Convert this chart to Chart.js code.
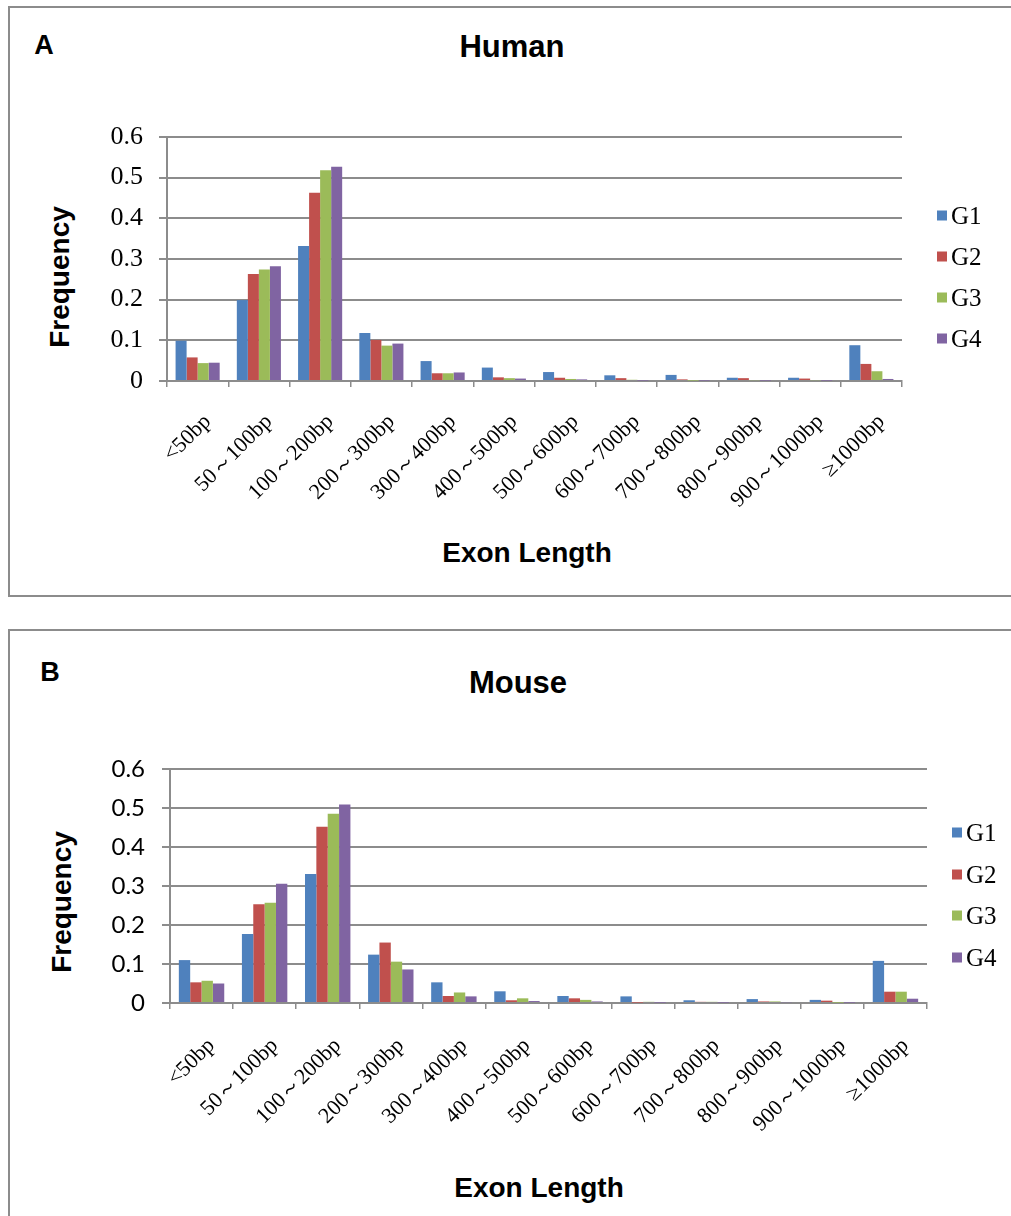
<!DOCTYPE html>
<html>
<head>
<meta charset="utf-8">
<script src="https://cdn.jsdelivr.net/npm/chart.js@4.4.1/dist/chart.umd.min.js"></script>
<style>
  html, body { margin: 0; padding: 0; background: #fff; }
  body { position: relative; width: 1011px; height: 1216px; overflow: hidden; }
  .panel { position: absolute; border: 2px solid #8c8c8c; box-sizing: border-box; }
  canvas { position: absolute; }
  .txt { position: absolute; font-family: "Liberation Sans", Arial, sans-serif; font-weight: bold; color: #000; white-space: nowrap; transform: translate(-50%, -50%); }
  .legend-item { position: absolute; font-family: "Liberation Serif", "Times New Roman", serif; font-size: 25px; color: #000; white-space: nowrap; line-height: 1; transform: translateY(-50%); }
  .legend-item span { display: inline-block; width: 10px; height: 10px; margin-right: 4px; vertical-align: 3px; }
</style>
</head>
<body>
<div class="panel" style="left:8px; top:6px; width:1100px; height:591px;"></div>
<div class="panel" style="left:8px; top:629px; width:1100px; height:700px;"></div>

<div class="txt" style="left:44px; top:45px; font-size:27px;">A</div>
<div class="txt" style="left:512px; top:47px; font-size:31px;">Human</div>
<div class="txt" style="left:60px; top:277px; font-size:28px; transform: translate(-50%, -50%) rotate(-90deg);">Frequency</div>
<div class="txt" style="left:527px; top:553px; font-size:28px;">Exon Length</div>

<div class="txt" style="left:50px; top:672px; font-size:27px;">B</div>
<div class="txt" style="left:518px; top:683px; font-size:31px;">Mouse</div>
<div class="txt" style="left:62px; top:902px; font-size:28px; transform: translate(-50%, -50%) rotate(-90deg);">Frequency</div>
<div class="txt" style="left:539px; top:1188px; font-size:28px;">Exon Length</div>

<canvas id="human" width="1000" height="586" style="left:10px; top:8px;"></canvas>
<canvas id="mouse" width="1000" height="585" style="left:10px; top:631px;"></canvas>

<script>
// exon length bins
const categories = ['<50bp', '50～100bp', '100～200bp', '200～300bp', '300～400bp', '400～500bp',
  '500～600bp', '600～700bp', '700～800bp', '800～900bp', '900～1000bp', '≥1000bp'];
const groupNames = ['G1', 'G2', 'G3', 'G4'];
const groupColors = ['#4F81BD', '#C0504D', '#9BBB59', '#8064A2'];
const yTicks = [0, 0.1, 0.2, 0.3, 0.4, 0.5, 0.6];

// Human frequencies
const humanG1 = [0.099, 0.199, 0.332, 0.118, 0.049, 0.033, 0.022, 0.014, 0.015, 0.008, 0.008, 0.088];
const humanG2 = [0.058, 0.263, 0.463, 0.101, 0.019, 0.009, 0.008, 0.007, 0.004, 0.007, 0.006, 0.042];
const humanG3 = [0.044, 0.274, 0.518, 0.087, 0.019, 0.007, 0.005, 0.003, 0.001, 0.002, 0.002, 0.024];
const humanG4 = [0.045, 0.282, 0.527, 0.092, 0.021, 0.006, 0.004, 0.001, 0.001, 0.001, 0.001, 0.005];

// Mouse frequencies
const mouseG1 = [0.110, 0.177, 0.331, 0.124, 0.053, 0.030, 0.018, 0.017, 0.007, 0.010, 0.008, 0.108];
const mouseG2 = [0.053, 0.253, 0.452, 0.155, 0.018, 0.007, 0.012, 0.001, 0.003, 0.004, 0.006, 0.029];
const mouseG3 = [0.057, 0.257, 0.485, 0.106, 0.027, 0.012, 0.008, 0.003, 0.003, 0.004, 0.001, 0.029];
const mouseG4 = [0.050, 0.306, 0.509, 0.086, 0.017, 0.005, 0.004, 0.001, 0.001, 0.002, 0.001, 0.011];

const gridGray = '#8c8c8c';
const serif = '"Liberation Serif", "Times New Roman", serif';

function makeDatasets(series) {
  return series.map((values, i) => ({
    label: groupNames[i],
    data: values,
    backgroundColor: groupColors[i],
    borderWidth: 0,
    categoryPercentage: 0.72,
    barPercentage: 1.0
  }));
}

function makeChart(id, series, cfg) {
  const ctx = document.getElementById(id).getContext('2d');
  return new Chart(ctx, {
    type: 'bar',
    data: { labels: categories, datasets: makeDatasets(series) },
    options: {
      responsive: false,
      animation: false,
      layout: { padding: { left: 0, top: cfg.top, right: cfg.right, bottom: 0 } },
      plugins: { legend: { display: false }, title: { display: false }, tooltip: { enabled: false } },
      scales: {
        x: {
          grid: { drawOnChartArea: false, color: gridGray, lineWidth: 1.5, tickLength: 6, offset: true },
          border: { color: gridGray, width: 2 },
          ticks: {
            autoSkip: false, minRotation: 45, maxRotation: 45,
            padding: cfg.xPad, labelOffset: cfg.xShift, color: '#000',
            font: { family: serif, size: 22 }
          },
          afterFit: (s) => { s.height = cfg.xHeight; }
        },
        y: {
          min: 0, max: 0.6,
          afterBuildTicks: (s) => { s.ticks = yTicks.map(v => ({ value: v })); },
          ticks: { padding: cfg.yPad, color: '#000', font: cfg.yFont },
          grid: { color: gridGray, lineWidth: 2, tickLength: 8 },
          border: { color: gridGray, width: 2 },
          afterFit: (s) => { s.width = cfg.yWidth; }
        }
      }
    }
  });
}

// html legend built from the chart's datasets
function addLegend(chart, left, top, step) {
  chart.data.datasets.forEach((ds, i) => {
    const div = document.createElement('div');
    div.className = 'legend-item';
    div.style.left = left + 'px';
    div.style.top = (top + i * step) + 'px';
    const box = document.createElement('span');
    box.style.background = ds.backgroundColor;
    div.appendChild(box);
    div.appendChild(document.createTextNode(ds.label));
    document.body.appendChild(div);
  });
}

const human = makeChart('human', [humanG1, humanG2, humanG3, humanG4], {
  top: 129, right: 108, yWidth: 157, xHeight: 213, xPad: 22, xShift: 10, yPad: 16,
  yFont: { family: serif, size: 26 }
});
const mouse = makeChart('mouse', [mouseG1, mouseG2, mouseG3, mouseG4], {
  top: 138, right: 83, yWidth: 160, xHeight: 213, xPad: 24, xShift: 10, yPad: 17,
  yFont: { family: 'Lato, "Open Sans", sans-serif', size: 24 }
});

addLegend(human, 937, 215, 41);
addLegend(mouse, 952, 832, 41.5);
</script>
</body>
</html>
